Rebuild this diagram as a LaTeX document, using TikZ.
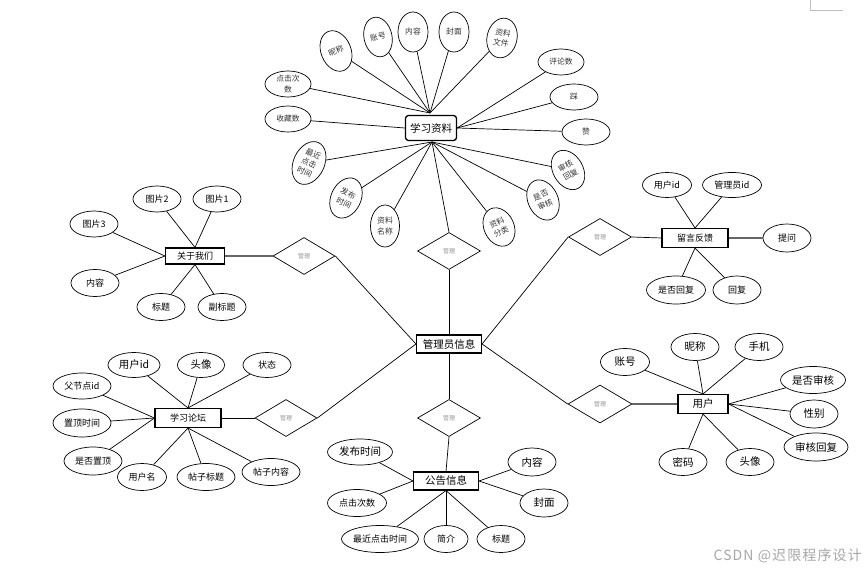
\documentclass[tikz,border=0pt]{standalone}
\usepackage{fontspec}
\setmainfont{Noto Sans CJK SC}
\newfontfamily\wmfont[LetterSpace=8]{Noto Sans CJK SC}
\usetikzlibrary{shapes.geometric}
\tikzset{
  attr/.style={ellipse, draw, line width=0.7pt, inner sep=0pt, align=center},
  ent/.style={rectangle, draw, line width=1.1pt, inner sep=0pt, fill=white},
  rel/.style={diamond, draw, line width=0.7pt, inner sep=0pt, text=gray!85, font=\fontsize{6}{7}\selectfont},
  ln/.style={line width=0.7pt},
  lnb/.style={line width=1.3pt, draw=black!60},
  sz/.style 2 args={minimum width=#1pt, minimum height=#2pt},
  fa/.style={font=\fontsize{7.8}{10.2}\selectfont, text=black!80},
  fb/.style={font=\fontsize{9}{10}\selectfont},
  fc/.style={font=\fontsize{10.5}{12}\selectfont},
}
\begin{document}
\begin{tikzpicture}[x=1pt,y=-1pt]
\useasboundingbox (0,0) rectangle (867,572);
% page corner mark
\draw[gray!50, line width=0.6pt] (810,0) -- (810,10) -- (843,10);

% ===== central entity =====
\node[ent, sz={65}{18}, fc] (admin) at (449,344) {管理员信息};

% ===== 学习资料 =====
\node[attr, fa, sz={30}{42}, rotate=22] (nc) at (336,51) {昵称};
\node[attr, fa, sz={28}{40}, rotate=12] (zh) at (378,37) {账号};
\node[attr, fa, sz={30}{40}] (nr) at (413,32) {内容};
\node[attr, fa, sz={30}{40}] (fm) at (454,32) {封面};
\node[attr, fa, sz={30}{40}, rotate=-12] (zlwj) at (502,38) {资料\\文件};
\node[attr, fa, sz={46}{26}] (pls) at (561,62) {评论数};
\node[attr, fa, sz={48}{26}] (cai) at (574,97) {踩};
\node[attr, fa, sz={48}{26}] (zan) at (586,132) {赞};
\node[attr, fa, sz={30}{42}, rotate=30] (shhf) at (568,170) {审核\\回复};
\node[attr, fa, sz={30}{42}, rotate=25] (sfsh) at (543,200) {是否\\审核};
\node[attr, fa, sz={30}{40}, rotate=25] (zlfl) at (499,227) {资料\\分类};
\node[attr, fa, sz={29}{42}] (zlmc) at (385,226) {资料\\名称};
\node[attr, fa, sz={30}{42}, rotate=-25] (fbsj) at (346,198) {发布\\时间};
\node[attr, fa, sz={31}{45}, rotate=-25] (zjdj) at (309,163) {最近\\点击\\时间};
\node[attr, fa, sz={46}{26}] (scs) at (288,119) {收藏数};
\node[attr, fa, sz={46}{26}] (djcs) at (288,84) {点击次\\数};
\coordinate (xtop) at (430,113);
\coordinate (xbot) at (432,142);
\foreach \n in {nc,zh,nr,fm,zlwj,djcs} \draw[ln] (xtop) -- (\n);
\node[rel, sz={63}{37}] (r1) at (449,251) {管理};
\foreach \n in {zjdj,fbsj,zlmc,zlfl,sfsh,shhf} \draw[ln] (xbot) -- (\n);
\draw[ln] (xbot) -- (r1.north);
\node[ent, rounded corners=3pt, line width=1.3pt, sz={51}{25}, fc] (xx) at (431,128) {学习资料};
\foreach \n in {pls,cai,zan} \draw[ln] (xx.east) -- (\n);
\draw[ln] (xx.west) -- (scs);
\draw[ln] (r1.south) -- (admin.north);

% ===== 关于我们 =====
\node[ent, sz={59}{16}, fb] (gy) at (195,256) {关于我们};
\node[rel, sz={62}{37}] (r2) at (304,256) {管理};
\draw[lnb] (gy.east) -- (r2.west);
\draw[ln] (r2.east) -- (admin.west);
\node[attr, fb, sz={48}{26}] (tp2) at (157,199) {图片2};
\node[attr, fb, sz={48}{26}] (tp1) at (217,199) {图片1};
\node[attr, fb, sz={48}{26}] (tp3) at (94,224) {图片3};
\node[attr, fb, sz={48}{27}] (gnr) at (95,283) {内容};
\node[attr, fb, sz={48}{27}] (gbt) at (161,307) {标题};
\node[attr, fb, sz={48}{27}] (gfbt) at (222,307) {副标题};
\foreach \n in {tp2,tp1} \draw[ln] (gy.north) -- (\n);
\foreach \n in {tp3,gnr} \draw[ln] (gy.west) -- (\n);
\foreach \n in {gbt,gfbt} \draw[ln] (gy.south) -- (\n);

% ===== 留言反馈 =====
\node[ent, sz={66}{19}, fb] (ly) at (695,238) {留言反馈};
\node[rel, sz={63}{37}] (r3) at (600,237) {管理};
\draw[ln] (r3.west) -- (admin.east);
\draw[ln] (r3.east) -- (ly.west);
\node[attr, fb, sz={49}{25}] (yhid) at (667,185) {用户id};
\node[attr, fb, sz={59}{25}] (glyid) at (732,185) {管理员id};
\node[attr, fb, sz={48}{28}] (tw) at (787,238) {提问};
\node[attr, fb, sz={59}{28}] (sfhf) at (676,290) {是否回复};
\node[attr, fb, sz={48}{28}] (hf) at (737,290) {回复};
\foreach \n in {yhid,glyid} \draw[ln] (ly.north) -- (\n);
\draw[lnb] (ly.east) -- (tw);
\foreach \n in {sfhf,hf} \draw[ln] (ly.south) -- (\n);

% ===== 学习论坛 =====
\node[ent, sz={66}{19}, fb] (lt) at (188,418) {学习论坛};
\node[rel, sz={62}{37}] (r4) at (286,418) {管理};
\draw[ln] (lt.east) -- (r4.west);
\draw[ln] (r4.east) -- (admin.west);
\node[attr, fc, sz={52}{25}] (lyhid) at (134,365) {用户id};
\node[attr, fc, sz={47}{25}] (ltx) at (201,365) {头像};
\node[attr, fb, sz={48}{25}] (zt) at (267,365) {状态};
\node[attr, fb, sz={58}{26}] (fjd) at (82,386) {父节点id};
\node[attr, fb, sz={58}{28}] (zdsj) at (82,423) {置顶时间};
\node[attr, fb, sz={58}{28}] (sfzd) at (93,461) {是否置顶};
\node[attr, fb, sz={49}{27}] (yhm) at (142,477) {用户名};
\node[attr, fb, sz={58}{27}] (tzbt) at (206,477) {帖子标题};
\node[attr, fb, sz={58}{27}] (tznr) at (271,472) {帖子内容};
\foreach \n in {lyhid,ltx,zt} \draw[ln] (lt.north) -- (\n);
\foreach \n in {fjd,zdsj,sfzd} \draw[ln] (lt.west) -- (\n);
\foreach \n in {yhm,tzbt,tznr} \draw[ln] (lt.south) -- (\n);

% ===== 公告信息 =====
\node[ent, sz={65}{18}, fc] (gg) at (446,481) {公告信息};
\node[rel, sz={63}{37}] (r5) at (449,418) {管理};
\draw[ln] (admin.south) -- (r5.north);
\draw[ln] (r5.south) -- (gg.north);
\node[attr, fc, sz={65}{26}] (gfbsj) at (360,452) {发布时间};
\node[attr, fb, sz={59}{27}] (gdjcs) at (357,503) {点击次数};
\node[attr, fb, sz={77}{27}] (gzjdj) at (380,539) {最近点击时间};
\node[attr, fb, sz={44}{27}] (gjj) at (446,539) {简介};
\node[attr, fb, sz={48}{27}] (gbt2) at (501,539) {标题};
\node[attr, fc, sz={48}{28}] (gnr2) at (532,462) {内容};
\node[attr, fc, sz={48}{28}] (gfm) at (544,503) {封面};
\foreach \n in {gfbsj,gdjcs} \draw[ln] (gg.west) -- (\n);
\foreach \n in {gzjdj,gjj,gbt2} \draw[ln] (gg.south) -- (\n);
\foreach \n in {gnr2,gfm} \draw[ln] (gg.east) -- (\n);

% ===== 用户 =====
\node[ent, sz={50}{19}, fc] (yh) at (703,404) {用户};
\node[rel, sz={64}{38}] (r6) at (600,404) {管理};
\draw[ln] (r6.west) -- (admin.east);
\draw[lnb] (r6.east) -- (yh.west);
\node[attr, fc, sz={49}{27}] (zh2) at (625,362) {账号};
\node[attr, fc, sz={48}{27}] (nc2) at (695,347) {昵称};
\node[attr, fc, sz={48}{27}] (sj) at (759,347) {手机};
\node[attr, fc, sz={65}{27}] (sfsh2) at (813,380) {是否审核};
\node[attr, fc, sz={48}{28}] (xb) at (814,414) {性别};
\node[attr, fc, sz={64}{28}] (shhf2) at (816,447) {审核回复};
\node[attr, fc, sz={48}{27}] (mm) at (683,462) {密码};
\node[attr, fc, sz={48}{27}] (tx2) at (750,462) {头像};
\foreach \n in {zh2,nc2,sj} \draw[ln] (yh.north) -- (\n);
\foreach \n in {sfsh2,xb,shhf2} \draw[ln] (yh.east) -- (\n);
\foreach \n in {mm,tx2} \draw[ln] (yh.south) -- (\n);

% watermark
\node[anchor=east, text=gray!70, font=\wmfont\fontsize{14}{16}\selectfont, inner sep=0pt] (wm) at (862,556) {CSDN @迟限程序设计};
\end{tikzpicture}
\end{document}
